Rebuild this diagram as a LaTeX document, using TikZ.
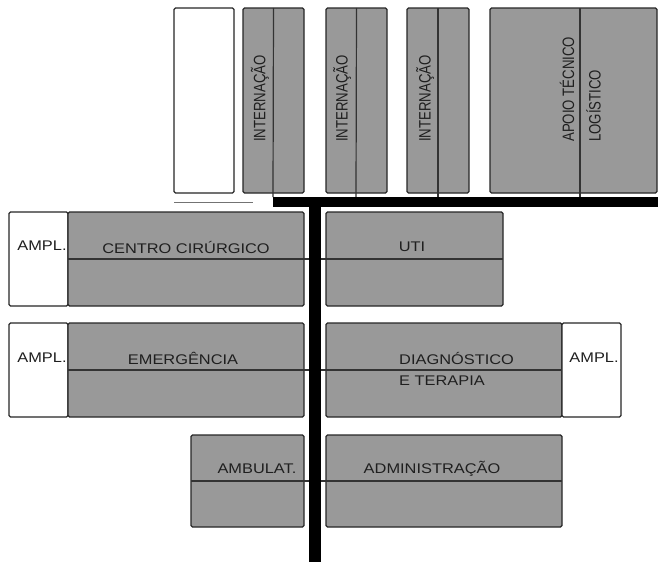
\documentclass[tikz,border=0pt]{standalone}
\usepackage{fontspec}
\setmainfont{Liberation Sans}[FakeStretch=1.17]
\newfontfamily\vfont{Liberation Sans}[FakeStretch=0.8]
\begin{document}
\begin{tikzpicture}[x=1pt,y=-1pt,
  wing/.style={draw=black!85, line width=1.2pt, fill=wingfill, rounded corners=1.5pt,
    anchor=north west, inner sep=0pt, outer sep=0pt},
  spare/.style={wing, fill=white},
  axis/.style={draw=black!80, line width=1.2pt},
  lbl/.style={text=black!88, font=\fontsize{14}{16}\selectfont, inner sep=0pt},
  vlbl/.style={text=black!88, font=\vfont\fontsize{16.5}{18}\selectfont, inner sep=0pt,
    rotate=90, anchor=west}]
\definecolor{wingfill}{HTML}{999999}
\useasboundingbox (0,0) rectangle (658,562);

% upper pavilions
\node[spare, minimum width=60, minimum height=185] (w0) at (174,8) {};
\node[wing, minimum width=61, minimum height=185] (i1) at (243,8) {};
\node[wing, minimum width=61, minimum height=185] (i2) at (326,8) {};
\node[wing, minimum width=62, minimum height=185] (i3) at (407,8) {};
\node[wing, minimum width=167, minimum height=185] (ap) at (490,8) {};
\coordinate (w0a) at (174,202);
\coordinate (w0b) at (253,202);
\draw[draw=black!55, line width=1pt] (w0a) -- (w0b);

% first block: surgery and ICU
\node[spare, minimum width=59, minimum height=94] (a1) at (9,212) {};
\node[wing, minimum width=236, minimum height=94] (cc) at (68,212) {};
\node[wing, minimum width=177, minimum height=94] (uti) at (326,212) {};

% second block: emergency and diagnosis
\node[spare, minimum width=59, minimum height=94] (a2) at (9,323) {};
\node[wing, minimum width=236, minimum height=94] (em) at (68,323) {};
\node[wing, minimum width=236, minimum height=94] (dt) at (326,323) {};
\node[spare, minimum width=59, minimum height=94] (a3) at (562,323) {};

% third block: outpatients and administration
\node[wing, minimum width=113, minimum height=92] (amb) at (191,435) {};
\node[wing, minimum width=236, minimum height=92] (adm) at (326,435) {};

% axis lines of the wings
\coordinate (c1) at (273,197);
\coordinate (c2) at (356,197);
\coordinate (c3) at (438,197);
\coordinate (c4) at (580,197);
\coordinate (d4) at (580,8);
\draw[axis] (i1.north) -- (c1);
\draw[axis] (i2.north) -- (c2);
\draw[axis] (i3.north) -- (c3);
\draw[axis] (d4) -- (c4);
\draw[axis] (cc.west) -- (uti.east);
\draw[axis] (em.west) -- (dt.east);
\draw[axis] (amb.west) -- (adm.east);

% circulation corridors
\fill[black] (273,197) rectangle (658,207);
\fill[black] (309,197) rectangle (321,562);

% labels
\node[vlbl] (t1) at (260,142) {INTERNAÇÃO};
\node[vlbl] (t2) at (342,142) {INTERNAÇÃO};
\node[vlbl] (t3) at (425,142) {INTERNAÇÃO};
\node[vlbl] (t4) at (567,142) {APOIO TÉCNICO};
\node[vlbl] (t5) at (593.5,142) {LOGÍSTICO};

\node[lbl] (l1) at (42,246) {AMPL.};
\node[lbl] (l2) at (186,247) {CENTRO CIRÚRGICO};
\node[lbl] (l3) at (412,247) {UTI};
\node[lbl] (l4) at (42,358) {AMPL.};
\node[lbl] (l5) at (183,358) {EMERGÊNCIA};
\node[lbl, anchor=west] (l6) at (399,358) {DIAGNÓSTICO};
\node[lbl, anchor=west] (l7) at (399,381) {E TERAPIA};
\node[lbl] (l8) at (594,358) {AMPL.};
\node[lbl] (l9) at (257,469) {AMBULAT.};
\node[lbl] (l10) at (432,469) {ADMINISTRAÇÃO};
\end{tikzpicture}
\end{document}
